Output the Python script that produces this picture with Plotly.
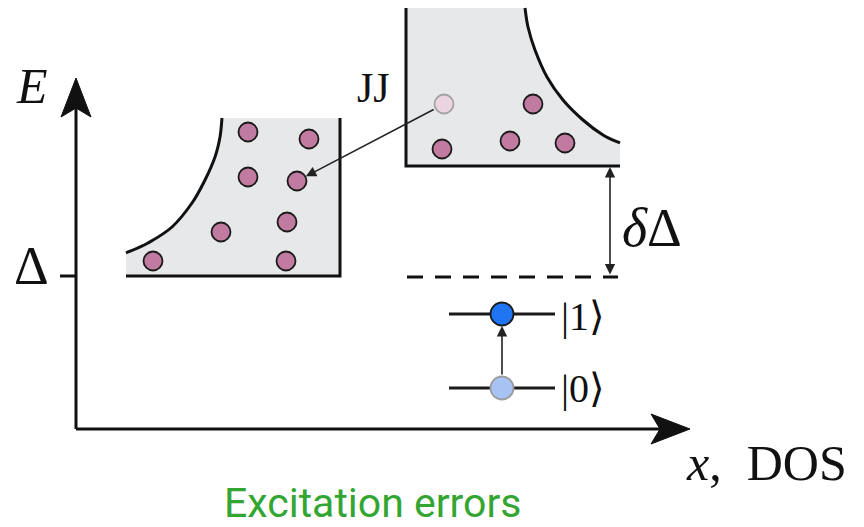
import plotly.graph_objects as go

# ---------------- data (pixel-space schematic coordinates) ----------------
# left band (superconductor DOS) outline
left_curve_x = [126, 148, 172, 192, 205, 215, 220, 222]
left_curve_y = [253, 243, 227, 203, 180, 157, 137, 118]
left_box = dict(x0=126, x1=340, y_top=118, y_bot=276)

# right band (JJ) outline
right_curve_x = [525, 528, 535, 547, 563, 583, 603, 620]
right_curve_y = [8, 27, 50, 77, 100, 120, 135, 143]
right_box = dict(x0=406, x1=620, y_top=8, y_bot=166)

# quasiparticles
left_qp_x = [248, 309, 248, 297, 287, 221, 153, 286]
left_qp_y = [132, 139, 177, 181, 222, 232, 261, 261]
right_qp_x = [533, 442, 510, 565]
right_qp_y = [104, 149, 141, 143]
faded_qp = (444, 104)
target_qp = (297, 181)

# qubit levels
level_y = [314, 388]
level_x = [449, 555]
qubit_x = 502
level_labels = ["|1⟩", "|0⟩"]

# axes
origin = (76, 429)
y_axis_top = 78
x_axis_right = 690
gap_y = 277
gap_tick_x = 60
dashed_x = [407, 618]
ddelta_x = 610

GRAY = "#e7e8ea"
QP = "#c27ba0"
INK = "#111111"


def smooth_path(xs, ys):
    pts = list(zip(xs, ys))
    n = len(pts)
    s = ""
    for i in range(n - 1):
        p0 = pts[i - 1] if i > 0 else pts[i]
        p1 = pts[i]
        p2 = pts[i + 1]
        p3 = pts[i + 2] if i + 2 < n else pts[i + 1]
        c1 = (p1[0] + (p2[0] - p0[0]) / 6, p1[1] + (p2[1] - p0[1]) / 6)
        c2 = (p2[0] - (p3[0] - p1[0]) / 6, p2[1] - (p3[1] - p1[1]) / 6)
        s += f" C {c1[0]:.2f},{c1[1]:.2f} {c2[0]:.2f},{c2[1]:.2f} {p2[0]:.2f},{p2[1]:.2f}"
    return s


fig = go.Figure()
shapes = []

# ---- band fills
lb = left_box
lpath = (f"M {lb['x0']},{lb['y_bot']} L {left_curve_x[0]},{left_curve_y[0]}"
         + smooth_path(left_curve_x, left_curve_y)
         + f" L {lb['x1']},{lb['y_top']} L {lb['x1']},{lb['y_bot']} Z")
shapes.append(dict(type="path", path=lpath, fillcolor=GRAY, line=dict(width=0), layer="below"))
rb = right_box
rpath = (f"M {rb['x0']},{rb['y_bot']} L {rb['x0']},{rb['y_top']} L {right_curve_x[0]},{right_curve_y[0]}"
         + smooth_path(right_curve_x, right_curve_y)
         + f" L {rb['x1']},{rb['y_bot']} Z")
shapes.append(dict(type="path", path=rpath, fillcolor=GRAY, line=dict(width=0), layer="below"))

# ---- band outlines
shapes.append(dict(type="path",
                   path=f"M {left_curve_x[0]},{left_curve_y[0]}" + smooth_path(left_curve_x, left_curve_y),
                   line=dict(color=INK, width=3)))
shapes.append(dict(type="path",
                   path=f"M {lb['x1']},{lb['y_top']} L {lb['x1']},{lb['y_bot']} L {lb['x0']},{lb['y_bot']}",
                   line=dict(color=INK, width=3)))
shapes.append(dict(type="path",
                   path=f"M {right_curve_x[0]},{right_curve_y[0]}" + smooth_path(right_curve_x, right_curve_y),
                   line=dict(color=INK, width=3)))
shapes.append(dict(type="path",
                   path=f"M {rb['x0']},{rb['y_top']} L {rb['x0']},{rb['y_bot']} L {rb['x1']},{rb['y_bot']}",
                   line=dict(color=INK, width=3)))

# ---- axes
ox, oy = origin
shapes.append(dict(type="line", x0=ox, y0=oy, x1=ox, y1=y_axis_top + 20, line=dict(color=INK, width=3)))
shapes.append(dict(type="line", x0=ox, y0=oy, x1=x_axis_right - 20, y1=oy, line=dict(color=INK, width=3)))
# arrowheads (stealth style)
shapes.append(dict(type="path",
                   path=f"M {ox},{y_axis_top} L {ox+15},{y_axis_top+39} L {ox},{y_axis_top+30} L {ox-15},{y_axis_top+39} Z",
                   fillcolor=INK, line=dict(color=INK, width=1)))
shapes.append(dict(type="path",
                   path=f"M {x_axis_right},{oy} L {x_axis_right-39},{oy-15} L {x_axis_right-30},{oy} L {x_axis_right-39},{oy+15} Z",
                   fillcolor=INK, line=dict(color=INK, width=1)))
# gap tick
shapes.append(dict(type="line", x0=gap_tick_x, y0=gap_y - 1, x1=ox, y1=gap_y - 1, line=dict(color=INK, width=3)))
# dashed gap line
shapes.append(dict(type="line", x0=dashed_x[0], y0=gap_y, x1=dashed_x[1], y1=gap_y,
                   line=dict(color=INK, width=3, dash="16px,12px")))
# qubit levels (under the qubit markers)
for ly in level_y:
    shapes.append(dict(type="line", x0=level_x[0], y0=ly, x1=level_x[1], y1=ly,
                       line=dict(color="#1a1a1a", width=3), layer="below"))

# ---- markers
fig.add_trace(go.Scatter(x=left_qp_x + right_qp_x, y=left_qp_y + right_qp_y, mode="markers",
                         marker=dict(size=19, color=QP, line=dict(color="#1a1a1a", width=1.8)),
                         hoverinfo="skip", showlegend=False))
fig.add_trace(go.Scatter(x=[faded_qp[0]], y=[faded_qp[1]], mode="markers",
                         marker=dict(size=19, color="#ecd5e1", line=dict(color="#a3a3a3", width=1.8)),
                         hoverinfo="skip", showlegend=False))
fig.add_trace(go.Scatter(x=[qubit_x], y=[level_y[0]], mode="markers",
                         marker=dict(size=23, color="#1f74f2", line=dict(color="#1a1a1a", width=1.8)),
                         hoverinfo="skip", showlegend=False))
fig.add_trace(go.Scatter(x=[qubit_x], y=[level_y[1]], mode="markers",
                         marker=dict(size=23, color="#a6c3f3", line=dict(color="#9c9c9c", width=1.8)),
                         hoverinfo="skip", showlegend=False))

ann = []
# arrows
ann.append(dict(x=target_qp[0], y=target_qp[1], ax=faded_qp[0], ay=faded_qp[1], xref="x", yref="y",
                axref="x", ayref="y", showarrow=True, arrowhead=2, arrowsize=1.3, arrowwidth=1.6,
                arrowcolor="#222222", standoff=10, startstandoff=10, text=""))
ann.append(dict(x=qubit_x, y=level_y[0], ax=qubit_x, ay=level_y[1], xref="x", yref="y",
                axref="x", ayref="y", showarrow=True, arrowhead=2, arrowsize=1.3, arrowwidth=1.6,
                arrowcolor="#222222", standoff=12, startstandoff=12, text=""))
ann.append(dict(x=ddelta_x, y=rb['y_bot'] + 1, ax=ddelta_x, ay=gap_y - 1, xref="x", yref="y",
                axref="x", ayref="y", showarrow=True, arrowhead=2, startarrowhead=2, arrowside="end+start",
                arrowsize=1.3, startarrowsize=1.3, arrowwidth=1.6, arrowcolor="#222222", text=""))

SERIF = "Liberation Serif, DejaVu Serif, serif"


def label(x, y, text, size, xanchor="center", color=INK, family=SERIF, borderpad=1):
    ann.append(dict(x=x, y=y, xref="x", yref="y", text=text, showarrow=False, xanchor=xanchor,
                    yanchor="middle", borderpad=borderpad, font=dict(family=family, size=size, color=color)))


label(32, 86, "<i>E</i>", 50)
label(31, 266, "Δ", 54)
label(373, 88, "JJ", 42)
label(652, 228, "<i>δ</i>Δ", 54)
label(583, 316, level_labels[0], 40)
label(583, 388, level_labels[1], 40)
label(684, 463, "<i>x</i>,&nbsp;&nbsp;DOS", 50, xanchor="left")
label(373, 503, "Excitation errors", 41, color="#33a532", family="Roboto, Noto Sans, sans-serif", borderpad=0)

fig.update_layout(
    width=864, height=527, margin=dict(l=0, r=0, t=0, b=0),
    paper_bgcolor="white", plot_bgcolor="white",
    xaxis=dict(range=[0, 864], visible=False, fixedrange=True),
    yaxis=dict(range=[527, 0], visible=False, fixedrange=True),
    shapes=shapes, annotations=ann, showlegend=False,
)
fig.write_html("out.html", config=dict(displayModeBar=False),
               post_script="document.body.style.margin='0';document.body.style.padding='0';document.body.style.overflow='hidden';")
